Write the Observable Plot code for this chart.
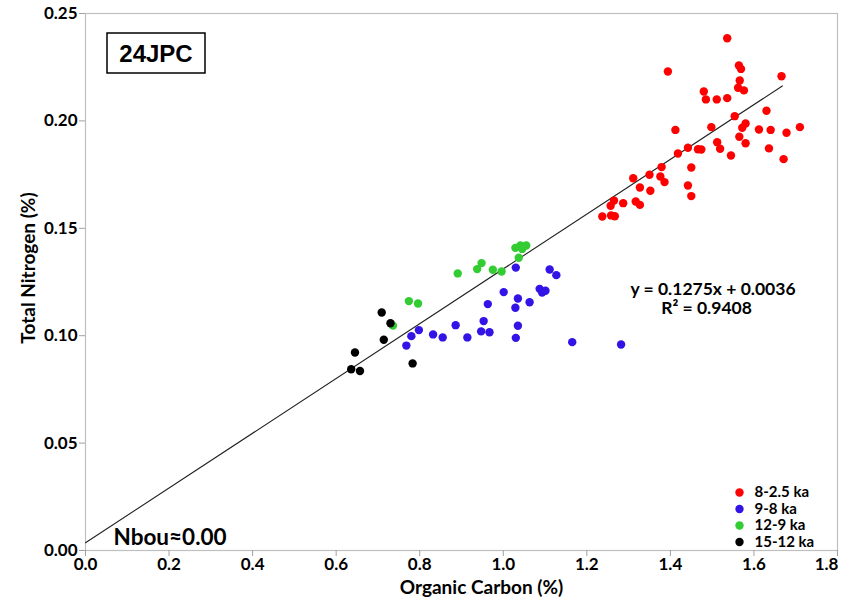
<!DOCTYPE html>
<html>
<head>
<meta charset="utf-8">
<script src="https://cdn.jsdelivr.net/npm/d3@7"></script>
<script src="https://cdn.jsdelivr.net/npm/@observablehq/plot@0.6"></script>
<style>
  body { margin: 0; background: #fff; }
  #chart { position: relative; width: 852px; height: 600px; }
</style>
</head>
<body>
<div id="chart"></div>
<script>
// ---- data ----
const red_oc = [1.536,1.394,1.564,1.569,1.666,1.566,1.562,1.576,1.480,1.485,1.511,1.536,1.630,1.554,1.580,1.572,1.498,1.412,1.612,1.640,1.710,1.678,1.565,1.580,1.512,1.519,1.442,1.418,1.466,1.474,1.545,1.636,1.671,1.450,1.379,1.350,1.376,1.386,1.311,1.442,1.450,1.327,1.352,1.317,1.327,1.265,1.287,1.257,1.237,1.258,1.267];
const red_tn = [0.2385,0.2230,0.2258,0.2242,0.2208,0.2188,0.2154,0.2142,0.2137,0.2100,0.2100,0.2106,0.2047,0.2022,0.1988,0.1968,0.1971,0.1958,0.1960,0.1958,0.1971,0.1945,0.1926,0.1896,0.1901,0.1870,0.1875,0.1848,0.1868,0.1867,0.1839,0.1872,0.1822,0.1783,0.1785,0.1749,0.1741,0.1715,0.1733,0.1699,0.1650,0.1690,0.1675,0.1625,0.1609,0.1629,0.1617,0.1605,0.1555,0.1560,0.1556];

const blue_oc = [1.030,1.111,1.127,1.001,1.087,1.093,1.101,1.035,1.063,0.963,1.029,0.953,0.886,1.035,0.947,0.967,0.832,0.855,0.914,1.030,1.165,1.282,0.798,0.780,0.768];
const blue_tn = [0.1317,0.1308,0.1282,0.1203,0.1218,0.1201,0.1209,0.1173,0.1156,0.1147,0.1130,0.1068,0.1049,0.1046,0.1020,0.1016,0.1006,0.0992,0.0992,0.0990,0.0970,0.0959,0.1026,0.0998,0.0954];

const green_oc = [1.029,1.041,1.055,1.037,1.045,0.948,0.9375,0.975,0.996,0.891,0.774,0.796,0.736];
const green_tn = [0.1409,0.1420,0.1420,0.1363,0.1404,0.1338,0.1310,0.1307,0.1299,0.1290,0.1161,0.1150,0.1047];

const black_oc = [0.709,0.730,0.714,0.645,0.636,0.657,0.783];
const black_tn = [0.1108,0.1058,0.0981,0.0922,0.0844,0.0836,0.0871];

const seriesNames = ["8-2.5 ka", "9-8 ka", "12-9 ka", "15-12 ka"];
const seriesColors = ["#ff0000", "#3214e6", "#33cc33", "#000000"];

const fitSlope = 0.1275, fitIntercept = 0.0036, fitR2 = 0.9408;
const fitRange = [0, 1.668];

const xTicks = [0, 0.2, 0.4, 0.6, 0.8, 1.0, 1.2, 1.4, 1.6, 1.8];
const yTicks = [0, 0.05, 0.10, 0.15, 0.20, 0.25];

const coreLabel = "24JPC";
const nbouLabel = "Nbou≈0.00";
const xTitle = "Organic Carbon (%)";
const yTitle = "Total Nitrogen (%)";

// ---- build tables ----
const groups = [[red_oc, red_tn], [blue_oc, blue_tn], [green_oc, green_tn], [black_oc, black_tn]];
const points = groups.flatMap(([xs, ys], gi) => xs.map((x, i) => ({x, y: ys[i], s: seriesNames[gi]})));
const fitLine = fitRange.map(x => ({x, y: fitSlope * x + fitIntercept}));
const eqText = `y = ${fitSlope}x + ${fitIntercept.toFixed(4)}`;
const r2Text = `R² = ${fitR2}`;
const fmtX = d3.format(".1f");
const lastX = xTicks[xTicks.length - 1];

const FONT = "Lato, 'Open Sans', sans-serif";

const legendRowsDy = [-58, -41.5, -25, -8.5];
const legendMarks = seriesNames.flatMap((name, i) => [
  Plot.dot([name], {frameAnchor: "bottom-right", dx: -98, dy: legendRowsDy[i], r: 4.2, fill: seriesColors[i]}),
  Plot.text([name], {frameAnchor: "bottom-right", dx: -83, dy: legendRowsDy[i], text: d => d, textAnchor: "start", lineAnchor: "middle", fontSize: 15, fontWeight: "bold", fill: "#000"})
]);

const chart = Plot.plot({
  width: 852,
  height: 600,
  marginLeft: 85,
  marginRight: 15,
  marginTop: 13,
  marginBottom: 50,
  style: {fontFamily: FONT, background: "#fff", overflow: "visible"},
  x: {domain: [0, 1.8], ticks: xTicks, tickFormat: fmtX},
  y: {domain: [0, 0.25], ticks: yTicks, tickFormat: d3.format(".2f")},
  color: {domain: seriesNames, range: seriesColors},
  marks: [
    Plot.frame({stroke: "#bfbfbf", strokeWidth: 1.2}),
    Plot.axisX({ticks: xTicks, tickFormat: d => d === lastX ? "" : fmtX(d), label: null, tickSize: 6, tickPadding: 1, stroke: "#a0a0a0", fill: "#000", fontSize: 17, fontWeight: "bold"}),
    Plot.text([lastX], {x: d => d, frameAnchor: "bottom", dx: -11, dy: 14, text: d => fmtX(d), textAnchor: "middle", lineAnchor: "middle", fontSize: 17, fontWeight: "bold", fill: "#000"}),
    Plot.axisY({ticks: yTicks, tickFormat: d3.format(".2f"), label: null, tickSize: 6, tickPadding: 2, stroke: "#a0a0a0", fill: "#000", fontSize: 17, fontWeight: "bold"}),
    Plot.line(fitLine, {x: "x", y: "y", stroke: "#222", strokeWidth: 1.1}),
    Plot.dot(points, {x: "x", y: "y", r: 4.2, fill: "s", stroke: null}),
    Plot.text([eqText], {frameAnchor: "top-left", dx: 630 - 85, dy: 289 - 13, text: d => d, textAnchor: "start", lineAnchor: "middle", fontSize: 17.5, fontWeight: "bold"}),
    Plot.text([r2Text], {frameAnchor: "top-left", dx: 706 - 85, dy: 308 - 13, text: d => d, textAnchor: "middle", lineAnchor: "middle", fontSize: 17.5, fontWeight: "bold"}),
    Plot.text([nbouLabel], {frameAnchor: "bottom-left", dx: 113 - 85, dy: -13, text: d => d, textAnchor: "start", lineAnchor: "middle", fontSize: 22.5, fontWeight: "bold"}),
    Plot.text([yTitle], {frameAnchor: "left", dx: -57, dy: -14, rotate: -90, text: d => d, textAnchor: "middle", lineAnchor: "middle", fontSize: 19, fontWeight: "bold"}),
    Plot.text([xTitle], {frameAnchor: "bottom", dx: 20, dy: 37, text: d => d, textAnchor: "middle", lineAnchor: "middle", fontSize: 19, fontWeight: "bold"}),
    ...legendMarks
  ]
});
document.getElementById("chart").appendChild(chart);

// core label box
const svg = d3.select(chart);
const g = svg.append("g");
g.append("rect").attr("x", 107).attr("y", 33).attr("width", 98).attr("height", 40).attr("fill", "#fff").attr("stroke", "#000").attr("stroke-width", 1.5);
g.append("text").attr("x", 156).attr("y", 53).attr("text-anchor", "middle").attr("dominant-baseline", "central")
  .attr("font-family", "'Liberation Sans', Arial, sans-serif").attr("font-weight", "bold").attr("font-size", 24).text(coreLabel);
</script>
</body>
</html>
